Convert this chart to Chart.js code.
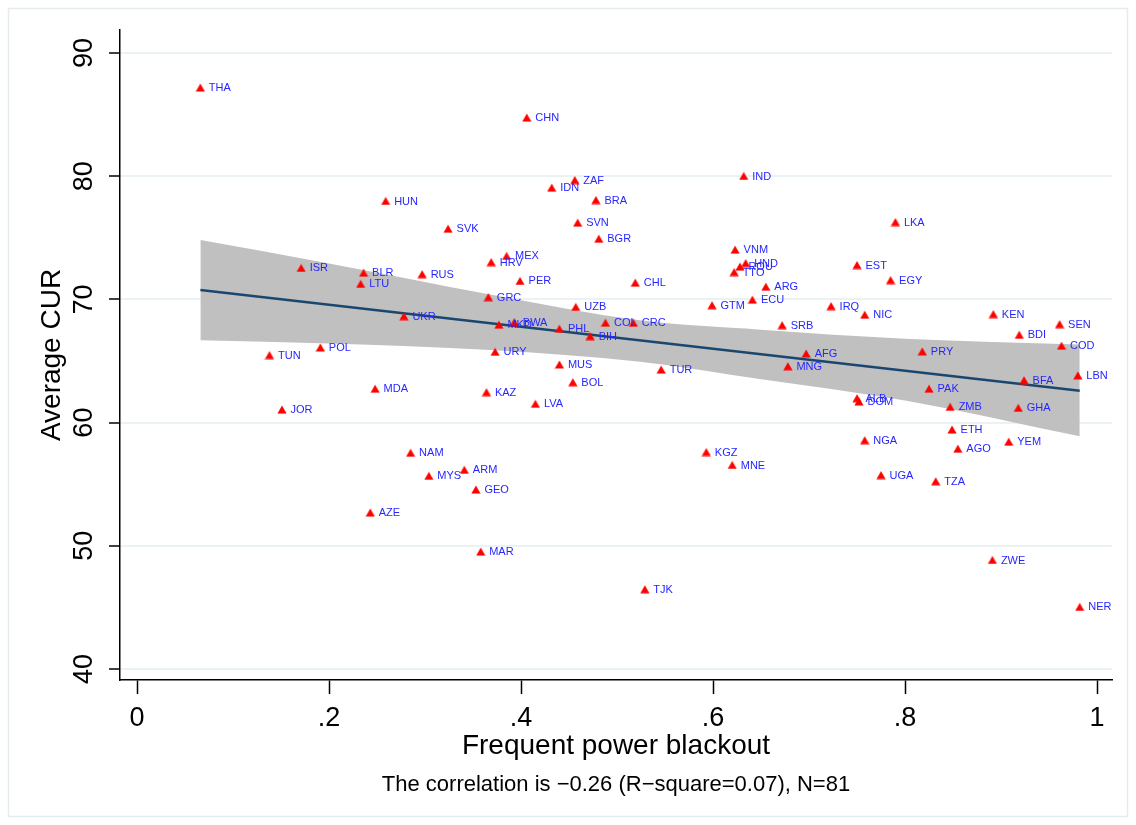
<!DOCTYPE html>
<html>
<head>
<meta charset="utf-8">
<script src="https://cdn.jsdelivr.net/npm/chart.js@4.4.1/dist/chart.umd.min.js"></script>
<style>
  html, body { margin: 0; padding: 0; background: #fff; }
</style>
</head>
<body>
<canvas id="chart" width="1136" height="825"></canvas>
<script>
// Datos
const countries = ['THA','CHN','IND','ZAF','IDN','HUN','BRA','SVK','SVN','LKA',
  'BGR','VNM','MEX','HRV','HND','ROU','TTO','EST','ISR','BLR',
  'RUS','LTU','PER','CHL','EGY','ARG','GRC','ECU','GTM','UZB',
  'IRQ','NIC','KEN','UKR','SEN','COL','CRC','MKD','BWA','SRB',
  'PHL','BIH','BDI','COD','POL','URY','TUN','AFG','PRY','MUS',
  'MNG','TUR','LBN','BFA','BOL','MDA','PAK','KAZ','ALB','DOM',
  'LVA','ZMB','GHA','JOR','ETH','NGA','YEM','AGO','KGZ','NAM',
  'ARM','MNE','MYS','UGA','TZA','GEO','AZE','MAR','ZWE','TJK','NER'];

const blackout = [0.066,0.406,0.632,0.456,0.432,0.259,0.478,0.324,0.459,0.790,
  0.481,0.623,0.385,0.369,0.634,0.628,0.622,0.750,0.171,0.236,
  0.297,0.233,0.399,0.519,0.785,0.655,0.366,0.641,0.599,0.457,
  0.723,0.758,0.892,0.278,0.961,0.488,0.517,0.377,0.393,0.672,
  0.440,0.472,0.919,0.963,0.191,0.373,0.138,0.697,0.818,0.440,
  0.678,0.546,0.980,0.924,0.454,0.248,0.825,0.364,0.750,0.752,
  0.415,0.847,0.918,0.151,0.849,0.758,0.908,0.855,0.593,0.285,
  0.341,0.620,0.304,0.775,0.832,0.353,0.243,0.358,0.891,0.529,0.982];

const avgCur = [87.20,84.76,80.02,79.69,79.07,77.99,78.07,75.74,76.23,76.28,
  74.93,74.04,73.53,73.03,72.95,72.66,72.22,72.79,72.56,72.17,
  72.05,71.26,71.50,71.36,71.57,71.03,70.19,69.98,69.53,69.39,
  69.46,68.76,68.81,68.64,67.99,68.11,68.11,67.95,68.16,67.91,
  67.62,67.02,67.13,66.24,66.10,65.75,65.48,65.61,65.78,64.72,
  64.58,64.31,63.83,63.44,63.28,62.75,62.75,62.47,61.98,61.71,
  61.53,61.28,61.20,61.06,59.44,58.57,58.45,57.88,57.61,57.55,
  56.17,56.56,55.68,55.74,55.24,54.57,52.70,49.53,48.85,46.47,45.04];

// recta ajustada y banda de confianza
const fitX = [0.066, 0.982];
const fitY = [70.76, 62.58];
const bandX = [0.066, 0.2, 0.368, 0.524, 0.65, 0.8, 0.982];
const bandUpper = [74.82, 72.92, 70.40, 68.30, 67.54, 66.81, 66.34];
const bandLower = [66.69, 66.43, 65.90, 64.95, 63.53, 61.80, 58.89];

const xTicks = [0, 0.2, 0.4, 0.6, 0.8, 1];
const xTickLabels = ['0', '.2', '.4', '.6', '.8', '1'];
const yTicks = [40, 50, 60, 70, 80, 90];

const fontFamily = '"Liberation Sans", Arial, Helvetica, sans-serif';

const scatterPoints = countries.map((c, i) => ({ x: blackout[i], y: avgCur[i] }));
const fitPoints = fitX.map((x, i) => ({ x, y: fitY[i] }));
const upperPoints = bandX.map((x, i) => ({ x, y: bandUpper[i] }));
const lowerPoints = bandX.map((x, i) => ({ x, y: bandLower[i] }));

// triangulo centrado en su caja (como el marcador de Stata)
function makeTriangle() {
  const c = document.createElement('canvas');
  c.width = 10;
  c.height = 9;
  const g = c.getContext('2d');
  g.fillStyle = '#ff0000';
  g.beginPath();
  g.moveTo(5, 0.5);
  g.lineTo(9.6, 8.5);
  g.lineTo(0.4, 8.5);
  g.closePath();
  g.fill();
  return c;
}
const triangle = makeTriangle();

// marco exterior y fondo
const framePlugin = {
  id: 'frame',
  beforeDraw(chart) {
    const ctx = chart.ctx;
    ctx.save();
    ctx.fillStyle = '#ffffff';
    ctx.fillRect(0, 0, chart.width, chart.height);
    ctx.strokeStyle = '#e4ebef';
    ctx.lineWidth = 1.5;
    ctx.strokeRect(8.5, 8.5, chart.width - 17, chart.height - 17);
    ctx.restore();
  }
};

// etiquetas del eje y, giradas como en Stata, y nota al pie
const textPlugin = {
  id: 'texts',
  afterDraw(chart) {
    const ctx = chart.ctx;
    const yScale = chart.scales.y;
    const area = chart.chartArea;
    ctx.save();
    ctx.fillStyle = '#000';
    ctx.font = '27px ' + fontFamily;
    ctx.textAlign = 'center';
    ctx.textBaseline = 'middle';
    yScale.ticks.forEach(t => {
      const py = yScale.getPixelForValue(t.value);
      ctx.save();
      ctx.translate(85, py);
      ctx.rotate(-Math.PI / 2);
      ctx.fillText(String(t.value), 0, 0);
      ctx.restore();
    });
    ctx.font = '22px ' + fontFamily;
    ctx.fillText('The correlation is \u22120.26 (R\u2212square=0.07), N=81', (area.left + area.right) / 2, 785);
    ctx.restore();
  }
};

// codigos de pais al lado de cada triangulo
const labelPlugin = {
  id: 'pointLabels',
  afterDatasetsDraw(chart) {
    const meta = chart.getDatasetMeta(3);
    const ctx = chart.ctx;
    ctx.save();
    ctx.font = '11px ' + fontFamily;
    ctx.fillStyle = '#2626ff';
    ctx.textAlign = 'left';
    ctx.textBaseline = 'middle';
    meta.data.forEach((pt, i) => {
      ctx.fillText(countries[i], pt.x + 8.5, pt.y + 0.5);
    });
    ctx.restore();
  }
};

new Chart(document.getElementById('chart'), {
  type: 'scatter',
  data: {
    datasets: [
      {
        type: 'line',
        data: upperPoints,
        borderWidth: 0,
        pointRadius: 0,
        backgroundColor: '#c0c0c0',
        fill: '+1',
        cubicInterpolationMode: 'monotone',
        order: 3
      },
      {
        type: 'line',
        data: lowerPoints,
        borderWidth: 0,
        pointRadius: 0,
        fill: false,
        cubicInterpolationMode: 'monotone',
        order: 4
      },
      {
        type: 'line',
        data: fitPoints,
        borderColor: '#1a476f',
        borderWidth: 2.5,
        pointRadius: 0,
        fill: false,
        order: 2
      },
      {
        data: scatterPoints,
        pointStyle: triangle,
        pointRadius: 5,
        backgroundColor: '#ff0000',
        borderWidth: 0,
        order: 1
      }
    ]
  },
  options: {
    responsive: false,
    animation: false,
    layout: { padding: { top: 30, right: 24, left: 0, bottom: 53.2 } },
    plugins: {
      legend: { display: false },
      tooltip: { enabled: false }
    },
    scales: {
      x: {
        type: 'linear',
        min: -0.01771,
        max: 1.0156,
        afterBuildTicks: s => { s.ticks = xTicks.map(v => ({ value: v })); },
        afterFit: s => { s.height = 91.8; },
        grid: { drawOnChartArea: false, drawTicks: true, tickLength: 14, tickColor: '#000', tickWidth: 1.5 },
        border: { display: true, color: '#000', width: 1.5 },
        ticks: {
          color: '#000',
          font: { size: 27, family: fontFamily },
          padding: 8,
          maxRotation: 0,
          autoSkip: false,
          callback: (v, i) => xTickLabels[i]
        },
        title: {
          display: true,
          text: 'Frequent power blackout',
          color: '#000',
          font: { size: 28, family: fontFamily },
          padding: { top: 0, bottom: 9 }
        }
      },
      y: {
        type: 'linear',
        min: 39.107,
        max: 91.87,
        afterBuildTicks: s => { s.ticks = yTicks.map(v => ({ value: v })); },
        afterFit: s => { s.width = 120; },
        grid: { color: '#eaf2f3', lineWidth: 2, drawTicks: true, tickLength: 11, tickColor: '#000', tickWidth: 1.5 },
        border: { display: true, color: '#000', width: 1.5 },
        ticks: { display: false },
        title: {
          display: true,
          text: 'Average CUR',
          color: '#000',
          font: { size: 28, family: fontFamily },
          padding: { top: 35 }
        }
      }
    }
  },
  plugins: [framePlugin, textPlugin, labelPlugin]
});
</script>
</body>
</html>
